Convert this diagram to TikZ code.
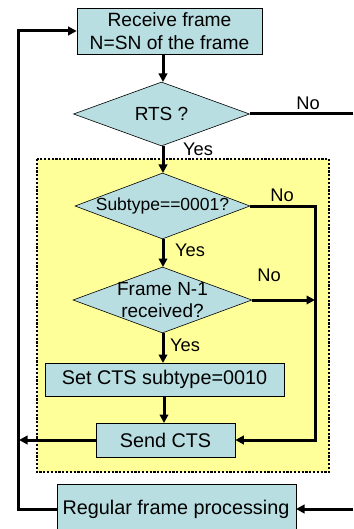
\documentclass[tikz,border=0pt]{standalone}
\usepackage{fontspec}
\setmainfont{Liberation Sans}
\usetikzlibrary{shapes.geometric,arrows.meta}
\definecolor{boxfill}{RGB}{184,222,225}
\definecolor{zonefill}{RGB}{255,255,153}
\begin{document}
\begin{tikzpicture}[x=1pt,y=-1pt,
  procbox/.style={draw=black,line width=0.6pt,fill=boxfill,rectangle,inner sep=0pt,
    font=\fontsize{19.8}{22}\selectfont,align=center},
  decision/.style={draw=black,line width=0.6pt,fill=boxfill,diamond,inner sep=0pt},
  dtext/.style={font=\fontsize{19}{22.5}\selectfont,align=center,inner sep=0pt},
  flow/.style={line width=3pt,-{Triangle[length=8.5pt,width=8.5pt]}},
  plain/.style={line width=3pt},
  lbl/.style={font=\fontsize{18.3}{22}\selectfont,inner sep=0pt}]
\useasboundingbox (0,0) rectangle (353,529);

% dotted zone around the CTS decision logic
\draw[fill=zonefill,line width=2.6pt,dash pattern=on 2.2pt off 1.6pt] (37,159) rectangle (329,472);

% process boxes
\node[procbox,font=\fontsize{19.2}{22.5}\selectfont,minimum width=185pt,minimum height=46pt] (recv) at (169.5,31)
  {Receive frame\\N=SN of the frame};
\node[procbox,minimum width=239pt,minimum height=33pt] (setcts) at (164.5,379.5)
  {Set CTS subtype=0010};
\node[procbox,minimum width=139pt,minimum height=34pt] (send) at (165.5,440)
  {Send CTS};
\node[procbox,minimum width=239pt,minimum height=56pt,anchor=north west] (reg) at (57,484) {};
\node[procbox,draw=none,fill=none] at (176,509) {Regular frame processing};
\coordinate (regW) at (57,509);
\coordinate (regE) at (296,509);

% decisions
\node[decision,minimum width=176pt,minimum height=64pt] (rts) at (161.5,114) {};
\node[dtext] at (rts) {RTS ?};
\node[decision,minimum width=175pt,minimum height=66pt] (sub) at (162.5,206) {};
\node[dtext,font=\fontsize{17.5}{20}\selectfont] at (sub) {Subtype==0001?};
\node[decision,minimum width=179pt,minimum height=66pt] (prev) at (162.5,300) {};
\node[dtext] at (prev) {Frame N-1\\received?};

% helper points for the connectors
\coordinate (rtsOut) at (353,114);
\coordinate (inR) at (353,509);
\coordinate (rbus) at (315,300);
\coordinate (lbusTop) at (18,31);
\coordinate (lbusBot) at (18,509);
\coordinate (lbusCts) at (19,440);

% main vertical flow
\draw[flow] (163,54) -- (163,82);
\draw[flow] (163,146) -- (163,173);
\draw[flow] (163,239) -- (163,267);
\draw[flow] (163,333) -- (163,363);
\draw[flow] (164,396) -- (164,423);

% "No" branches
\draw[plain] (rts.east) -- (rtsOut);
\draw[flow] (sub.east) -| (315,440) -- (send.east);
\draw[flow] (prev.east) -- (rbus);

% return paths on the left
\draw[flow] (send.west) -- (lbusCts);
\draw[flow] (regW) -- (lbusBot) -- (lbusTop) -- (recv.west);
\draw[flow] (inR) -- (regE);

% branch labels
\node[lbl] at (308,103) {No};
\node[lbl] at (198,149) {Yes};
\node[lbl] at (282,195) {No};
\node[lbl] at (190,250) {Yes};
\node[lbl] at (269,275) {No};
\node[lbl] at (185,345) {Yes};
\end{tikzpicture}
\end{document}
